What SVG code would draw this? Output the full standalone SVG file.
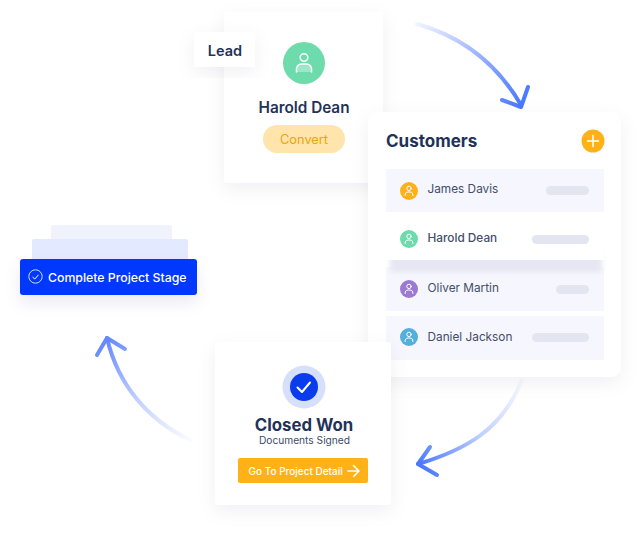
<svg xmlns="http://www.w3.org/2000/svg" width="641" height="534" viewBox="0 0 641 534">
<style>
text{font-family:Inter,"Noto Sans","Liberation Sans",sans-serif}
.card{fill:#fff;filter:url(#sh)}
.title{fill:#1f3358;font-weight:600}
.name{fill:#444e69;font-size:11.8px;font-weight:400}
.row{fill:#f5f6fe}
.bar{fill:#e3e5f0}
.ic{fill:none;stroke:#fff;stroke-width:1;stroke-linecap:round}
.arr{fill:none;stroke-width:4;stroke-linecap:round;stroke-linejoin:round}
</style>
<defs>
<filter id="sh" x="-30%" y="-30%" width="160%" height="160%"><feDropShadow dx="0" dy="6" stdDeviation="9" flood-color="#1f3358" flood-opacity=".06"/></filter>
<filter id="sh2" x="-30%" y="-50%" width="160%" height="220%"><feDropShadow dx="0" dy="8" stdDeviation="8" flood-color="#1f2a70" flood-opacity=".08"/></filter>
<filter id="bl" x="-10%" y="-50%" width="120%" height="200%"><feGaussianBlur stdDeviation="2.500"/></filter>
<linearGradient id="a1" gradientUnits="userSpaceOnUse" x1="417" y1="24" x2="521" y2="105"><stop offset="0" stop-color="#4a78ff" stop-opacity=".08"/><stop offset=".5" stop-color="#4a78ff" stop-opacity=".55"/><stop offset="1" stop-color="#4a78ff"/></linearGradient>
<linearGradient id="a2" gradientUnits="userSpaceOnUse" x1="522" y1="380" x2="418" y2="464"><stop offset="0" stop-color="#4a78ff" stop-opacity=".03"/><stop offset=".5" stop-color="#4a78ff" stop-opacity=".35"/><stop offset="1" stop-color="#4a78ff"/></linearGradient>
<linearGradient id="a3" gradientUnits="userSpaceOnUse" x1="190" y1="440" x2="107" y2="338"><stop offset="0" stop-color="#6488ff" stop-opacity=".03"/><stop offset=".5" stop-color="#6488ff" stop-opacity=".4"/><stop offset="1" stop-color="#6488ff"/></linearGradient>
<g id="person"><circle cx="0" cy="-2.6" r="2.200" class="ic"/><path d="M-3.800 4.500V3A3 3 0 0 1-1 1H1A3 3 0 0 1 3.800 3V4.500" class="ic"/></g>
</defs>

<g id="connectors">
<path class="arr" stroke="url(#a1)" d="M417 24C460 36 496 62 521 105"/>
<path class="arr" stroke="url(#a1)" d="M502 100L521 107L528 87"/>
<path class="arr" stroke="url(#a2)" d="M522 380C502 430 465 450 418 464"/>
<path class="arr" stroke="url(#a2)" d="M430 447L418 464L437 475"/>
<path class="arr" stroke="url(#a3)" d="M190 440C148 420 118 385 107 338"/>
<path class="arr" stroke="url(#a3)" d="M97 355L107 338L125 349"/>
</g>

<g id="lead-card">
<rect class="card" x="224" y="12" width="159" height="171" rx="4"/>
<circle cx="304" cy="63" r="21" fill="#6ddbac"/>
<circle cx="304" cy="57.500" r="3.800" fill="none" stroke="#fff" stroke-width="1.500"/>
<path d="M296.500 72V69A5 5 0 0 1 301.500 64H306.500A5 5 0 0 1 311.500 69V72Z" fill="#9ae8c7"/>
<path d="M296.500 72V69A5 5 0 0 1 301.500 64H306.500A5 5 0 0 1 311.500 69V72" fill="none" stroke="#fff" stroke-width="1.500" stroke-linecap="round"/>
<text class="title" x="304" y="113" text-anchor="middle" font-size="15.300">Harold Dean</text>
<rect x="263" y="125" width="82" height="28" rx="14" fill="#ffe5ab"/>
<text x="304" y="144" text-anchor="middle" font-size="12.800" fill="#eda30c">Convert</text>
</g>

<g id="lead-tag">
<rect class="card" x="194" y="32" width="61" height="35" rx="2"/>
<text class="title" x="225" y="56" text-anchor="middle" font-size="14.500">Lead</text>
</g>

<g id="customers-card">
<rect class="card" x="368" y="112" width="253" height="265" rx="10"/>
<text class="title" x="386" y="146.500" font-size="17" style="font-weight:700">Customers</text>
<circle cx="593" cy="141" r="11.500" fill="#ffb218"/>
<path d="M587.500 141H598.500M593 135.500V146.500" stroke="#fff" stroke-width="1.600" stroke-linecap="round"/>
<rect class="row" x="386" y="169" width="218" height="43" rx="2"/>
<rect class="row" x="386" y="267" width="218" height="44" rx="2"/>
<rect class="row" x="386" y="316" width="218" height="44" rx="2"/>
</g>

<g id="row-james">
<circle cx="409" cy="191" r="9" fill="#ffb218"/>
<use href="#person" x="409" y="191"/>
<text class="name" x="427.500" y="193">James Davis</text>
<rect class="bar" x="546" y="186" width="43" height="9" rx="4.500"/>
</g>

<g id="row-oliver">
<circle cx="409" cy="289" r="9" fill="#9c79d2"/>
<use href="#person" x="409" y="289"/>
<text class="name" x="427.500" y="292">Oliver Martin</text>
<rect class="bar" x="556" y="285" width="33" height="9" rx="4.500"/>
</g>

<g id="row-daniel">
<circle cx="409" cy="337" r="9" fill="#56aedb"/>
<use href="#person" x="409" y="337"/>
<text class="name" x="427.500" y="340.500">Daniel Jackson</text>
<rect class="bar" x="532" y="333" width="57" height="9" rx="4.500"/>
</g>

<g id="row-harold">
<rect x="390" y="254" width="212" height="18" fill="#e6e7f2" filter="url(#bl)"/>
<rect x="386" y="220" width="218" height="40" fill="#fff"/>
<circle cx="409" cy="239" r="9" fill="#6ddbac"/>
<use href="#person" x="409" y="239"/>
<text class="name" x="427.500" y="242" style="font-weight:500">Harold Dean</text>
<rect class="bar" x="532" y="235" width="57" height="9" rx="4.500"/>
</g>

<g id="closed-won-card">
<rect class="card" x="215" y="342" width="176" height="163" rx="4"/>
<circle cx="304" cy="387" r="21.500" fill="#d6e0fb"/>
<circle cx="304" cy="387" r="14" fill="#0a3ced"/>
<path d="M297.500 387.500L302 392L310 382.500" fill="none" stroke="#fff" stroke-width="2" stroke-linecap="round" stroke-linejoin="round"/>
<text class="title" x="304" y="431" text-anchor="middle" font-size="16.800" style="font-weight:700">Closed Won</text>
<text x="304.500" y="444" text-anchor="middle" font-size="10.200" fill="#3c4a6b">Documents Signed</text>
<rect x="238" y="458" width="130" height="25" rx="2" fill="#ffb218"/>
<text x="248.500" y="475" font-size="10" font-weight="500" fill="#fff">Go To Project Detail</text>
<path d="M348 471H358.500M353.500 465.500L359 471L353.500 476.500" fill="none" stroke="#fff" stroke-width="1.500" stroke-linecap="round" stroke-linejoin="round"/>
</g>

<g id="project-stage">
<rect x="51" y="225" width="121" height="20" rx="2" fill="#f0f2fe"/>
<rect x="32" y="239" width="156" height="25" rx="2" fill="#e3e9fe"/>
<rect x="20" y="259" width="177" height="36" rx="3" fill="#0137fe" filter="url(#sh2)"/>
<circle cx="35.500" cy="276.500" r="6.700" fill="none" stroke="#d3dcff" stroke-width="1"/>
<path d="M32.500 277L34.800 279L38.500 274.800" fill="none" stroke="#fff" stroke-width="1"/>
<text x="48" y="282" font-size="12.300" font-weight="500" fill="#fff">Complete Project Stage</text>
</g>
</svg>
